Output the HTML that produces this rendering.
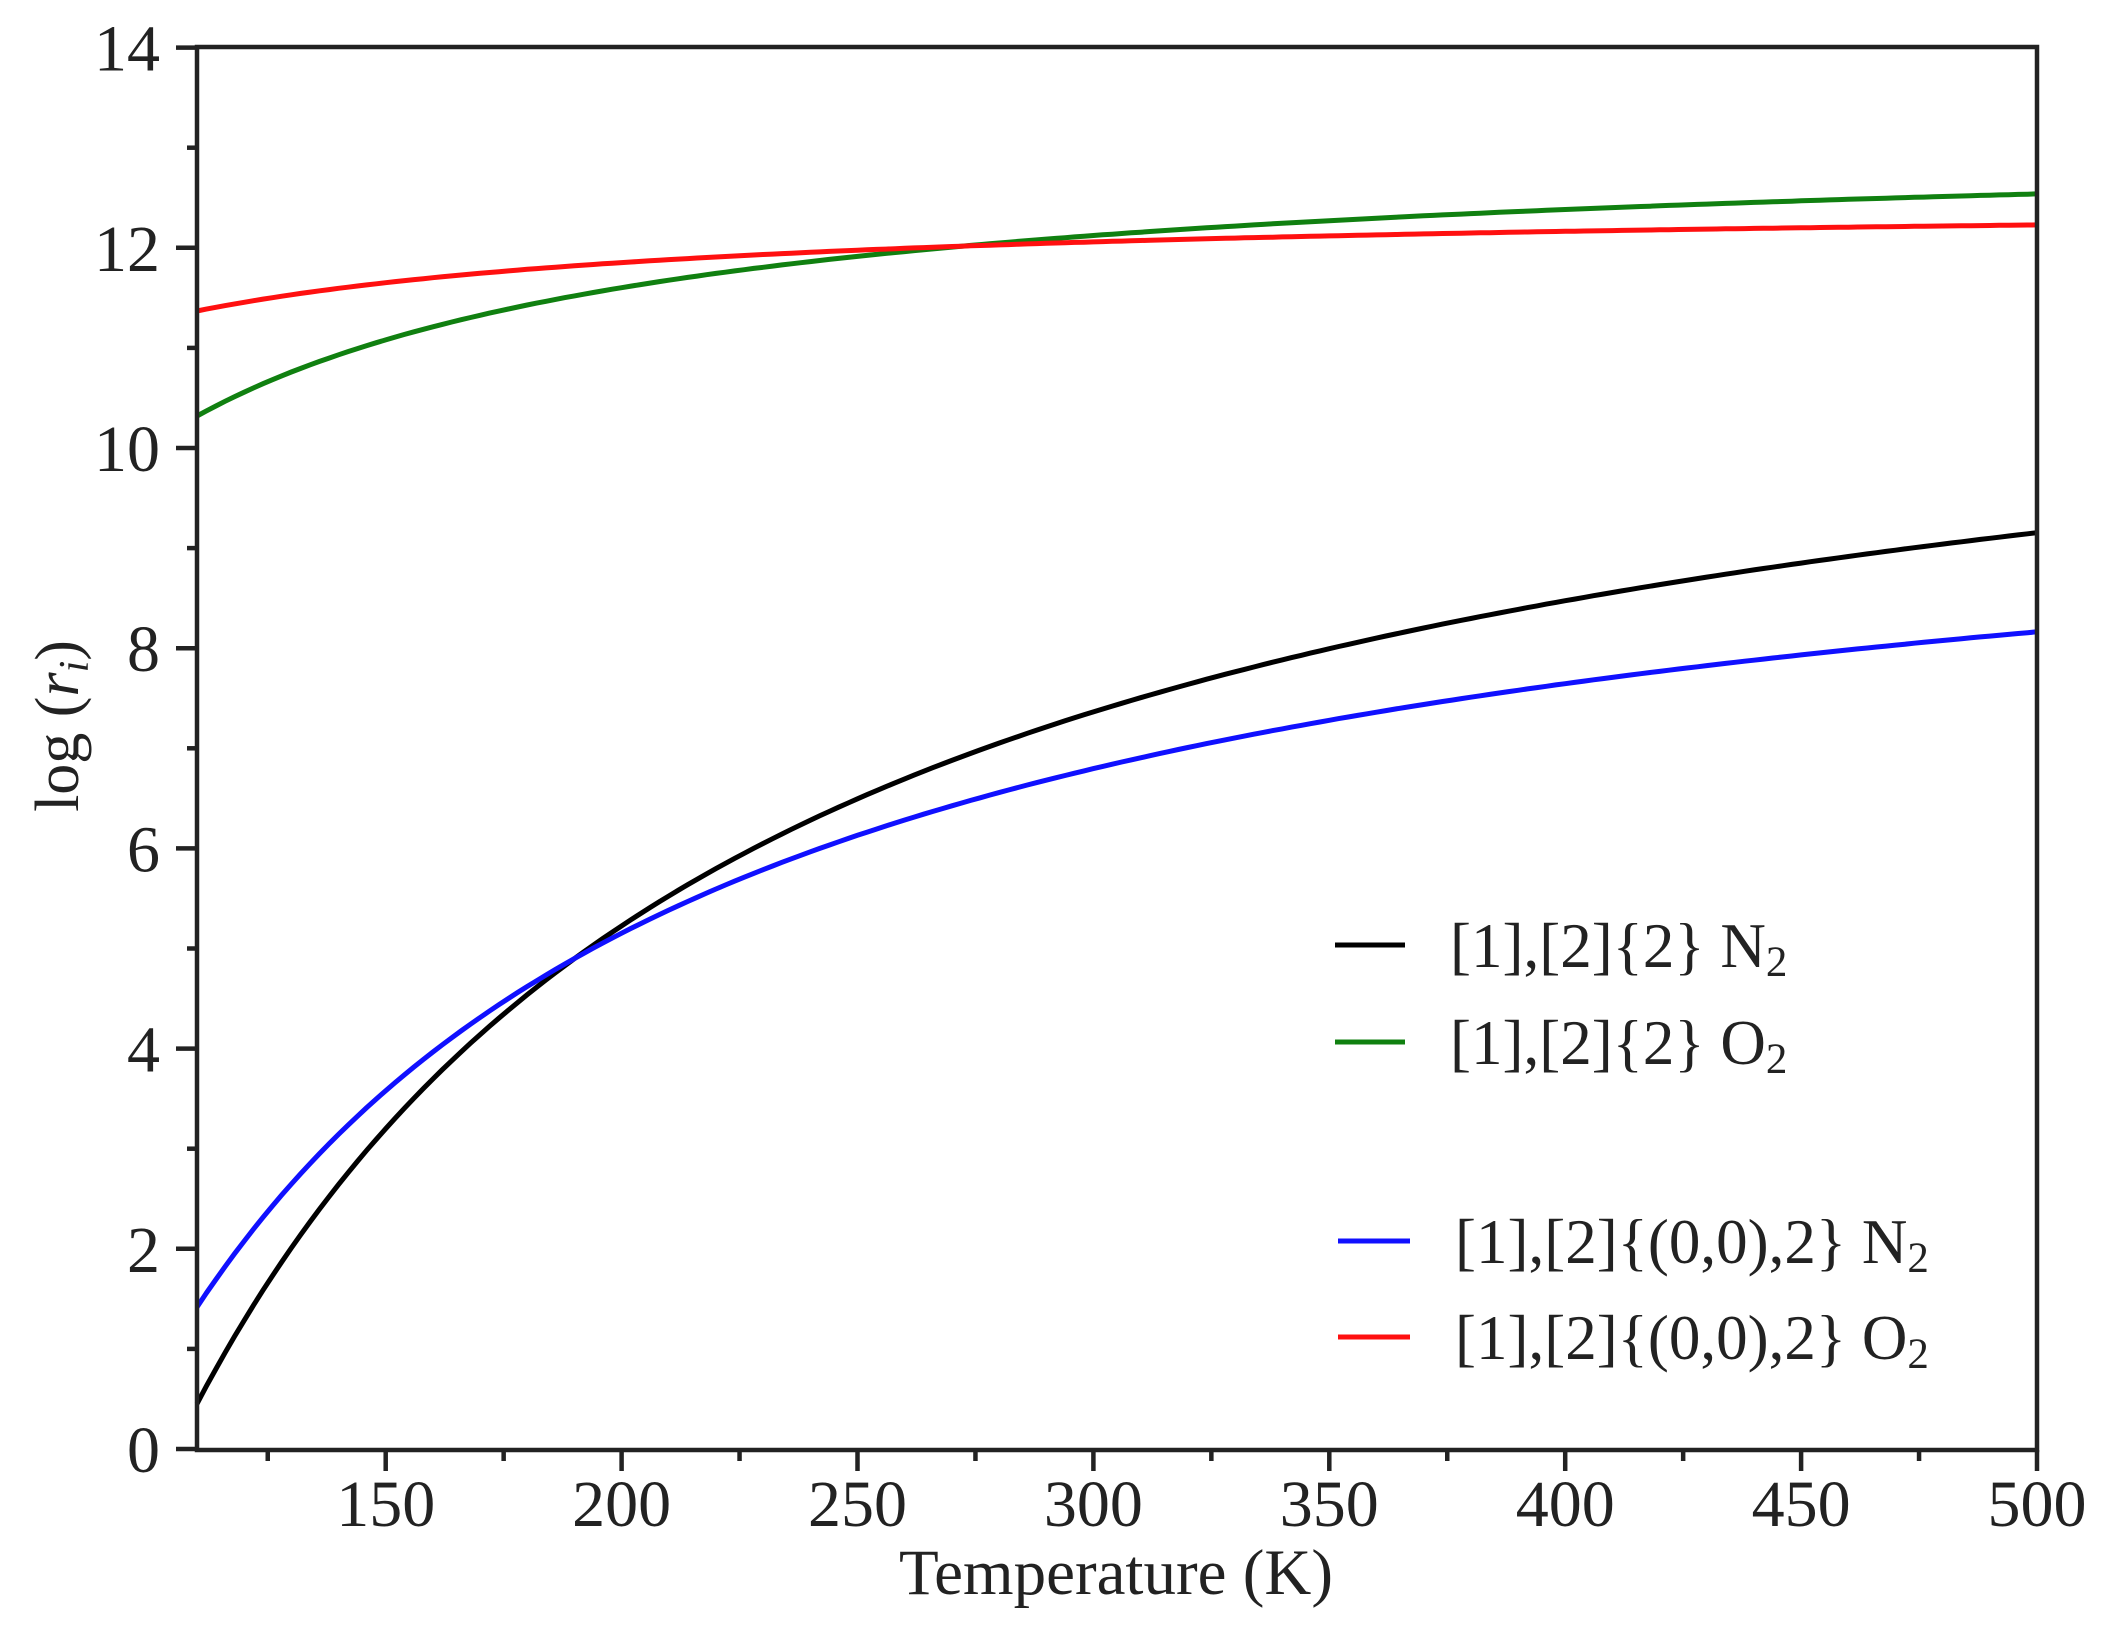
<!DOCTYPE html>
<html><head><meta charset="utf-8"><style>
html,body{margin:0;padding:0;background:#fff}
svg text{font-family:"Liberation Serif",serif;fill:#222}
</style></head><body>
<svg id="s" width="2108" height="1632" xmlns="http://www.w3.org/2000/svg">
<g id="curves" fill="none" stroke-width="5" stroke-linejoin="round"></g>
<rect x="197" y="47" width="1840" height="1403" fill="none" stroke="#222" stroke-width="4.5"/>
<g id="ticks" stroke="#222" stroke-width="4.5"></g>
<g font-size="66" text-anchor="end" id="ylab"></g>
<g font-size="66" text-anchor="middle" id="xlab"></g>
<text x="1116" y="1594" font-size="65" text-anchor="middle">Temperature (K)</text>
<text transform="translate(78,726) rotate(-90)" font-size="62" text-anchor="middle">log (<tspan font-style="italic">r</tspan><tspan font-style="italic" font-size="42" dy="10">i</tspan><tspan dy="-10">)</tspan></text>
<g stroke-width="5">
<line x1="1335" y1="945" x2="1405" y2="945" stroke="#000"/>
<line x1="1335" y1="1042" x2="1405" y2="1042" stroke="#108010"/>
<line x1="1338" y1="1241" x2="1410" y2="1241" stroke="#1010ff"/>
<line x1="1338" y1="1337" x2="1410" y2="1337" stroke="#ff1010"/>
</g>
<g font-size="63">
<text x="1450" y="967">[1],[2]{2} N<tspan font-size="43" dy="9">2</tspan></text>
<text x="1450" y="1064">[1],[2]{2} O<tspan font-size="43" dy="9">2</tspan></text>
<text x="1455" y="1263">[1],[2]{(0,0),2} N<tspan font-size="43" dy="9">2</tspan></text>
<text x="1455" y="1359">[1],[2]{(0,0),2} O<tspan font-size="43" dy="9">2</tspan></text>
</g>
</svg>
<script>
var X=function(t){return 2037-(500-t)*4.718},Y=function(v){return 1449-100.1*v};
var ns="http://www.w3.org/2000/svg";
function el(p,n,a){var e=document.createElementNS(ns,n);for(var k in a)e.setAttribute(k,a[k]);document.getElementById(p).appendChild(e);return e;}
for(var v=0;v<=14;v++){var y=Y(v);if(v%2==0){el('ticks','line',{x1:176,x2:197,y1:y,y2:y});var t=el('ylab','text',{x:160,y:y+23});t.textContent=v;}else{el('ticks','line',{x1:187,x2:197,y1:y,y2:y});}}
for(var T=125;T<=500;T+=25){var x=X(T);if(T%50==0){el('ticks','line',{x1:x,x2:x,y1:1450,y2:1471});var t=el('xlab','text',{x:x,y:1526});t.textContent=T;}else el('ticks','line',{x1:x,x2:x,y1:1450,y2:1461});}
var S={"#000":[[110,0.45],[150,3.2],[200,5.25],[250,6.45],[300,7.38],[350,8.0],[400,8.48],[450,8.85],[500,9.15]],
"#1010ff":[[110,1.4],[150,3.62],[200,5.18],[250,6.1],[300,6.75],[350,7.25],[400,7.65],[450,7.95],[500,8.2]],
"#108010":[[110,10.32],[150,11.08],[200,11.6],[250,11.92],[300,12.12],[350,12.27],[400,12.38],[450,12.47],[500,12.54]],
"#ff1010":[[110,11.37],[150,11.65],[200,11.85],[250,11.97],[300,12.07],[350,12.12],[400,12.17],[450,12.2],[500,12.22]]};
function solve(A,b){var n=3;for(var i=0;i<n;i++){var m=i;for(var r=i+1;r<n;r++)if(Math.abs(A[r][i])>Math.abs(A[m][i]))m=r;var t=A[i];A[i]=A[m];A[m]=t;t=b[i];b[i]=b[m];b[m]=t;for(var r=i+1;r<n;r++){var f=A[r][i]/A[i][i];for(var c=i;c<n;c++)A[r][c]-=f*A[i][c];b[r]-=f*b[i];}}var x=[0,0,0];for(var i=n-1;i>=0;i--){var s=b[i];for(var c=i+1;c<n;c++)s-=A[i][c]*x[c];x[i]=s/A[i][i];}return x;}
for(var c in S){var p=S[c],A=[[0,0,0],[0,0,0],[0,0,0]],b=[0,0,0];
p.forEach(function(q){var u=100/q[0],ph=[1,u,u*u];for(var i=0;i<3;i++){b[i]+=ph[i]*q[1];for(var j=0;j<3;j++)A[i][j]+=ph[i]*ph[j];}});
var co=solve(A,b),d="";
for(var T=110;T<=500.01;T+=2){var u=100/T,v=co[0]+co[1]*u+co[2]*u*u;d+=(d?" L":"M")+X(T).toFixed(1)+","+Y(v).toFixed(1);}
el('curves','path',{d:d,stroke:c});}
</script>
</body></html>
